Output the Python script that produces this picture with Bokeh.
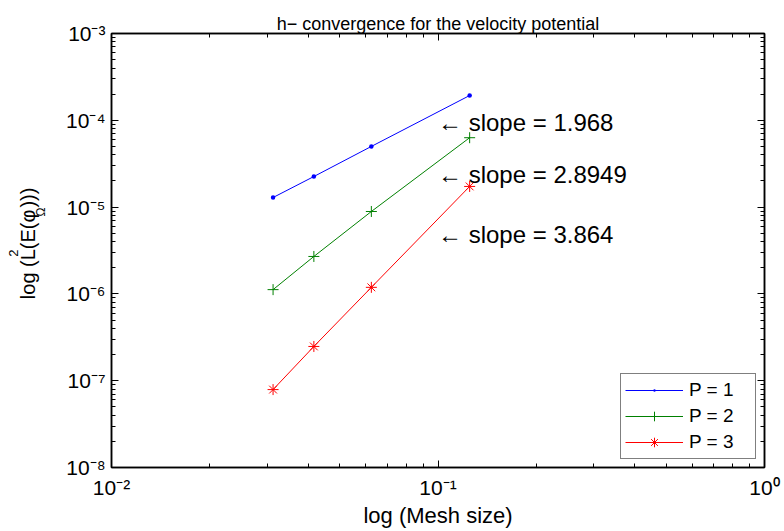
import math
from bokeh.plotting import figure
from bokeh.layouts import row
from bokeh.models import (FixedTicker, CustomJSTickFormatter, LogAxis,
                          Legend, LegendItem, ColumnDataSource)
from bokeh.core.properties import value
from bokeh.embed import file_html
from bokeh.resources import INLINE

# ---------------- data ----------------
mesh_size = [1 / 32, 1 / 24, 1 / 16, 1 / 8]
err_p1 = [1.29e-5, 2.25e-5, 5.0e-5, 1.93e-4]
err_p2 = [1.12e-6, 2.7e-6, 8.9e-6, 6.3e-5]
err_p3 = [7.9e-8, 2.48e-7, 1.19e-6, 1.73e-5]
series_names = ["P = 1", "P = 2", "P = 3"]

slope_labels = ["\u2190 slope = 1.968", "\u2190 slope = 2.8949", "\u2190 slope = 3.864"]
slope_x = [0.1, 0.1, 0.1]
slope_y = [9.5e-5, 2.35e-5, 4.8e-6]

x_tick_values = [1e-2, 1e-1, 1e0]
x_tick_labels = ["10\u207b\u00b2", "10\u207b\u00b9", "10\u2070"]
y_tick_values = [1e-8, 1e-7, 1e-6, 1e-5, 1e-4, 1e-3]
y_tick_labels = ["10\u207b\u2078", "10\u207b\u2077", "10\u207b\u2076",
                 "10\u207b\u2075", "10\u207b\u2074", "10\u207b\u00b3"]

title_text = "h\u2212 convergence for the velocity potential"
x_label = "log (Mesh size)"
# y label pieces: text, role (main / sup / sub)
y_label_parts = ["log (L", "2", "(E(\u03c6", "\u03a9", ")))"]
y_label_roles = ["main", "sup", "main", "sub", "main"]

# ---------------- style ----------------
FONT = "Liberation Sans"
colors = ["#0000ff", "#008000", "#ff0000"]
markers = ["dot", "cross", "asterisk"]
marker_sizes = [18, 11, 11]

LEFT_W = 50
p = figure(width=784 - LEFT_W, height=531, x_axis_type="log", y_axis_type="log",
           x_range=(1e-2, 1e0), y_range=(1e-8, 1e-3),
           output_backend="svg", toolbar_location=None,
           min_border_left=111 - LEFT_W, min_border_right=20,
           min_border_top=33, min_border_bottom=64)
p.background_fill_color = "white"
p.border_fill_color = "white"
p.xgrid.grid_line_color = None
p.ygrid.grid_line_color = None
p.outline_line_color = "black"
p.outline_line_width = 1.5

p.title.text = title_text
p.title.text_font = FONT
p.title.text_font_size = "18px"
p.title.text_font_style = "normal"
p.title.align = "center"
p.title.text_color = "black"
p.title.standoff = 0


def minor_list(lo, hi):
    out = []
    for k in range(lo, hi):
        for m in range(2, 10):
            out.append(m * 10.0 ** k)
    return out


x_ticker = FixedTicker(ticks=x_tick_values, minor_ticks=minor_list(-2, 0))
y_ticker = FixedTicker(ticks=y_tick_values, minor_ticks=minor_list(-8, -3))

fmt_code = """
for (let i = 0; i < vals.length; i++) {
  if (Math.abs(Math.log10(vals[i]) - Math.log10(tick)) < 1e-6) { return labs[i]; }
}
return "";
"""
x_fmt = CustomJSTickFormatter(args=dict(vals=x_tick_values, labs=x_tick_labels), code=fmt_code)
y_fmt = CustomJSTickFormatter(args=dict(vals=y_tick_values, labs=y_tick_labels), code=fmt_code)
empty_fmt = CustomJSTickFormatter(code="return '';")


def style_axis(ax, ticker, fmt, show):
    ax.ticker = ticker
    ax.formatter = fmt
    ax.major_tick_in = 7
    ax.major_tick_out = 0
    ax.minor_tick_in = 4
    ax.minor_tick_out = 0
    ax.axis_line_width = 1.5
    ax.axis_line_color = "black"
    ax.major_tick_line_color = "black"
    ax.minor_tick_line_color = "black"
    ax.major_label_text_font = FONT
    ax.major_label_text_color = "black"
    if show:
        ax.major_label_text_font_size = "21px"
    else:
        ax.major_label_text_font_size = "0px"
        ax.major_label_standoff = 0


style_axis(p.xaxis[0], x_ticker, x_fmt, True)
style_axis(p.yaxis[0], y_ticker, y_fmt, True)
p.xaxis[0].major_label_standoff = 8
p.yaxis[0].major_label_standoff = 6
p.xaxis[0].axis_label = x_label
p.xaxis[0].axis_label_text_font = FONT
p.xaxis[0].axis_label_text_font_size = "22px"
p.xaxis[0].axis_label_text_font_style = "normal"
p.xaxis[0].axis_label_text_color = "black"
p.xaxis[0].axis_label_standoff = 1

top_ax = LogAxis()
style_axis(top_ax, x_ticker, empty_fmt, False)
top_ax.major_label_standoff = 6  # lifts the title a little
p.add_layout(top_ax, "above")
right_ax = LogAxis()
style_axis(right_ax, y_ticker, empty_fmt, False)
p.add_layout(right_ax, "right")

# ---------------- series ----------------
items = []
for name, ys, c, mk, ms in zip(series_names, [err_p1, err_p2, err_p3], colors, markers, marker_sizes):
    src = ColumnDataSource(dict(x=mesh_size, y=ys))
    lr = p.line("x", "y", source=src, line_color=c, line_width=1)
    sr = p.scatter("x", "y", source=src, marker=mk, size=ms, line_color=c,
                   fill_color=c, line_width=1)
    items.append(LegendItem(label=name, renderers=[lr, sr]))

legend = Legend(items=items, location="bottom_right", margin=8,
                border_line_color="black", border_line_width=1,
                background_fill_color="white", background_fill_alpha=1,
                label_text_font=FONT, label_text_font_size="19px",
                label_text_color="black",
                glyph_width=58, glyph_height=24, label_height=24,
                label_width=62, padding=4, spacing=2, label_standoff=6)
p.add_layout(legend, "center")

# ---------------- slope annotations ----------------
p.text(x=slope_x, y=slope_y, text=slope_labels, text_font=value(FONT),
       text_font_size="24px", text_baseline="middle", text_align="left",
       text_color="black")

# ---------------- y label panel (rotated, with super/subscripts) ----------------
H = 531
lab = figure(width=LEFT_W, height=H, x_range=(0, LEFT_W), y_range=(0, H),
             output_backend="svg", toolbar_location=None,
             x_axis_location=None, y_axis_location=None,
             min_border_left=0, min_border_right=0, min_border_top=0, min_border_bottom=0)
lab.grid.visible = False
lab.outline_line_color = None
lab.background_fill_color = "white"
lab.border_fill_color = "white"

role_x = {"main": 27, "sup": 13, "sub": 40}
role_size = {"main": "20px", "sup": "13px", "sub": "12px"}
# start of each piece along the label (pixels from bottom of the panel)
piece_start = [206, 258, 267, 307, 318]
lab_src = ColumnDataSource(dict(
    x=[role_x[r] for r in y_label_roles],
    y=piece_start,
    text=y_label_parts,
    size=[role_size[r] for r in y_label_roles],
))
lab.text(x="x", y="y", text="text", source=lab_src, angle=math.pi / 2,
         text_font=value(FONT), text_font_size="size", text_align="left",
         text_baseline="alphabetic", text_color="black")

layout = row(lab, p)
open("out.html", "w").write(file_html(layout, INLINE))
